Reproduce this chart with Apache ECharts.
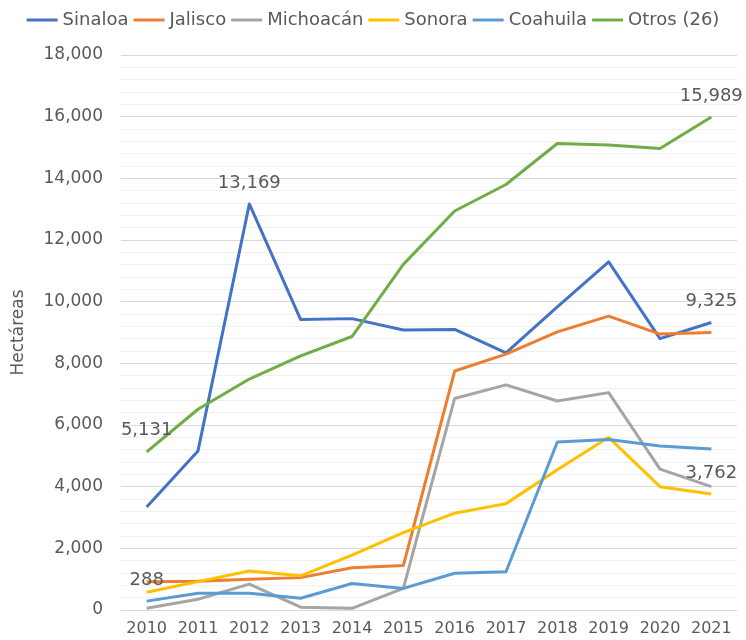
<!DOCTYPE html>
<html>
<head>
<meta charset="utf-8">
<script src="https://cdn.jsdelivr.net/npm/echarts@6/dist/echarts.min.js"></script>
<style>
  html, body { margin: 0; padding: 0; background: #fff; }
  #chart { width: 746px; height: 640px; }
</style>
</head>
<body>
<div id="chart"></div>
<script>
const years = ['2010', '2011', '2012', '2013', '2014', '2015', '2016', '2017', '2018', '2019', '2020', '2021'];

const sinaloa = [3340, 5160, 13169, 9420, 9450, 9080, 9100, 8340, 9830, 11290, 8800, 9325];
const jalisco = [920, 930, 1000, 1050, 1370, 1440, 7750, 8300, 9020, 9530, 8950, 9000];
const michoacan = [60, 350, 840, 90, 55, 700, 6860, 7300, 6780, 7050, 4570, 4000];
const sonora = [575, 920, 1265, 1110, 1780, 2510, 3140, 3450, 4550, 5600, 4000, 3762];
const coahuila = [288, 540, 540, 380, 860, 700, 1190, 1240, 5450, 5530, 5320, 5220];
const otros = [5131, 6510, 7490, 8240, 8870, 11210, 12940, 13800, 15130, 15080, 14970, 15989];

// which points carry a value label
const labeledSinaloa = [2, 11];
const labeledSonora = [11];
const labeledCoahuila = [0];
const labeledOtros = [0, 11];

const fmt = v => Number(v).toLocaleString('en-US');
const font = 'DejaVu Sans';
const textColor = '#595959';

const withLabels = (values, idx) => values.map((v, i) =>
  idx.includes(i) ? { value: v, label: { show: true } } : v
);

const makeSeries = (name, color, data) => ({
  name: name,
  type: 'line',
  data: data,
  symbol: 'circle',
  symbolSize: 0,
  showSymbol: true,
  showAllSymbol: true,
  lineStyle: { color: color, width: 3, join: 'round' },
  itemStyle: { color: color },
  label: {
    show: false,
    position: 'top',
    distance: 12,
    formatter: p => fmt(p.value),
    color: textColor,
    fontFamily: font,
    fontSize: 18
  }
});

const chart = echarts.init(document.getElementById('chart'));
const option = {
  animation: false,
  color: ['#4472C4', '#ED7D31', '#A5A5A5', '#FFC000', '#5B9BD5', '#70AD47'],
  legend: {
    top: 6,
    left: 'center',
    icon: 'rect',
    itemWidth: 31,
    itemHeight: 3,
    itemGap: 5,
    textStyle: { color: textColor, fontFamily: font, fontSize: 18 }
  },
  grid: { left: 121, right: 9, top: 55, bottom: 30, containLabel: false },
  xAxis: {
    type: 'category',
    data: years,
    boundaryGap: true,
    axisTick: { show: false },
    axisLine: { lineStyle: { color: '#d9d9d9', width: 1 } },
    axisLabel: { interval: 0, color: textColor, fontFamily: font, fontSize: 16, margin: 11 }
  },
  yAxis: {
    type: 'value',
    min: 0,
    max: 18000,
    interval: 2000,
    name: 'Hectáreas',
    nameLocation: 'middle',
    nameGap: 94,
    nameTextStyle: { color: textColor, fontFamily: font, fontSize: 17 },
    axisLine: { show: false },
    axisTick: { show: false },
    axisLabel: { color: textColor, fontFamily: font, fontSize: 17, margin: 18, formatter: v => fmt(v) },
    splitLine: { lineStyle: { color: '#d9d9d9', width: 1 } },
    minorTick: { show: false, splitNumber: 5 },
    minorSplitLine: { show: true, lineStyle: { color: '#f0f0f0', width: 1 } }
  },
  series: [
    makeSeries('Sinaloa', '#4472C4', withLabels(sinaloa, labeledSinaloa)),
    makeSeries('Jalisco', '#ED7D31', jalisco),
    makeSeries('Michoacán', '#A5A5A5', michoacan),
    makeSeries('Sonora', '#FFC000', withLabels(sonora, labeledSonora)),
    makeSeries('Coahuila', '#5B9BD5', withLabels(coahuila, labeledCoahuila)),
    makeSeries('Otros (26)', '#70AD47', withLabels(otros, labeledOtros))
  ]
};
chart.setOption(option);
</script>
</body>
</html>
